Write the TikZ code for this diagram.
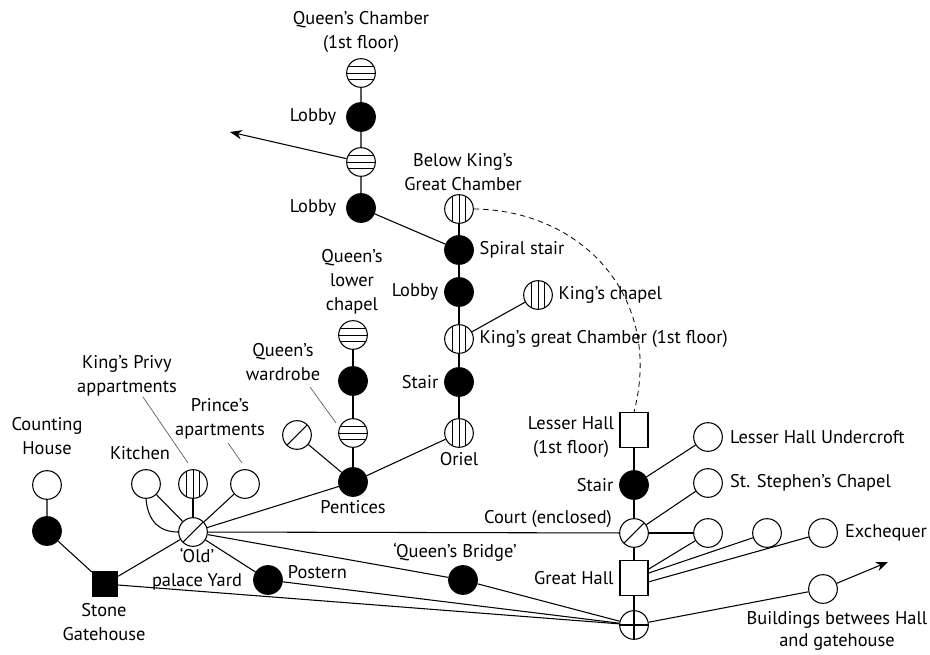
\documentclass[tikz,border=0pt]{standalone}
\usepackage{fontspec}
\setmainfont{PT Sans}
\usetikzlibrary{arrows.meta, calc, positioning}

\tikzset{
	room/.style={circle, draw, fill=white, minimum size=21.5pt, inner sep=0pt},
	pass/.style={room, fill=black},
	hatchH/.style={room, path picture={
		\foreach \d in {-5,0,5}
			\draw[line width=.5pt] ([yshift=\d pt]path picture bounding box.west) -- ([yshift=\d pt]path picture bounding box.east);}},
	hatchV/.style={room, path picture={
		\foreach \d in {-5,0,5}
			\draw[line width=.5pt] ([xshift=\d pt]path picture bounding box.north) -- ([xshift=\d pt]path picture bounding box.south);}},
	slash/.style={room, path picture={
		\draw (path picture bounding box.south west) -- (path picture bounding box.north east);}},
	cross/.style={room, path picture={
		\draw (path picture bounding box.north) -- (path picture bounding box.south);
		\draw (path picture bounding box.west) -- (path picture bounding box.east);}},
	hall/.style={rectangle, draw, fill=white, minimum width=21pt, minimum height=26pt, inner sep=0pt},
	gate/.style={rectangle, fill=black, minimum size=19pt, inner sep=0pt},
	tag/.style={inner sep=1pt, align=center, font=\fontsize{13.8}{18}\selectfont},
	leader/.style={draw=black!70, line width=.45pt},
}

\begin{document}
\begin{tikzpicture}[x=.75pt, y=-.75pt, line width=.8pt]
	\useasboundingbox (0,0) rectangle (930,655);

	% queen's side, top chain
	\node[hatchH] (qchamber) at (361,73) {};
	\node[pass] (lobbyA) at (361,117) {};
	\node[hatchH] (qhall) at (361,162) {};
	\node[pass] (lobbyB) at (361,208) {};
	\coordinate (westout) at (230,132);

	% king's side
	\node[hatchV] (belowkgc) at (459,209) {};
	\node[pass] (spiral) at (459,250) {};
	\node[pass] (lobbyC) at (459,292) {};
	\node[hatchV] (kgc) at (459,339) {};
	\node[hatchV] (kchapel) at (538,295) {};
	\node[pass] (kstair) at (459,382) {};
	\node[hatchV] (oriel) at (459,433) {};

	% queen's lower chapel down to the pentices
	\node[hatchH] (qlchapel) at (353,335) {};
	\node[pass] (qpass) at (353,381) {};
	\node[hatchH] (qwardrobe) at (353,433) {};
	\node[pass] (pentices) at (353,482) {};
	\node[slash] (pslash) at (297,435) {};

	% old palace yard
	\node[slash] (opy) at (193,532) {};
	\node[room] (kitchen) at (146,484) {};
	\node[hatchV] (kprivy) at (193,484) {};
	\node[room] (prince) at (245,484) {};
	\node[room] (counting) at (47,485) {};
	\node[pass] (cpass) at (47,531) {};
	\node[gate] (gatehouse) at (105,584) {};
	\node[pass] (postern) at (268,580) {};
	\node[pass] (qbridge) at (463,580) {};

	% hall range
	\node[hall] (lesser) at (634,430) {};
	\node[pass] (hstair) at (634,485) {};
	\node[slash] (court) at (634,533) {};
	\node[hall] (ghall) at (634,578) {};
	\node[cross] (xyard) at (634,625) {};
	\node[room] (undercroft) at (708,437) {};
	\node[room] (stephen) at (708,483) {};
	\node[room] (outA) at (708,533) {};
	\node[room] (outB) at (767,533) {};
	\node[room] (exchequer) at (823,533) {};
	\node[room] (between) at (823,589) {};
	\coordinate (eastout) at (888,562);

	% links
	\draw (qchamber) -- (lobbyA) -- (qhall) -- (lobbyB) -- (spiral);
	\draw[-{Stealth[length=9pt, width=7pt]}] (qhall) -- (westout);
	\draw (belowkgc) -- (spiral) -- (lobbyC) -- (kgc) -- (kstair) -- (oriel);
	\draw (kgc) -- (kchapel);
	\draw (qlchapel) -- (qpass) -- (qwardrobe) -- (pentices);
	\draw (pslash) -- (pentices) -- (oriel);
	\draw (opy) -- (pentices);
	\draw (opy) -- (kitchen);
	\draw (kitchen.south) .. controls (148,522) and (160,532) .. (opy.west);
	\draw (opy) -- (kprivy);
	\draw (opy) -- (prince);
	\draw (counting) -- (cpass) -- (gatehouse) -- (opy);
	\draw (opy) -- (postern);
	\draw (opy) -- (qbridge) -- (xyard);
	\draw (opy) -- (court);
	\draw (postern) -- (xyard);
	\draw (gatehouse) -- (xyard);
	\draw (lesser) -- (hstair) -- (court) -- (ghall) -- (xyard);
	\draw (hstair) -- (undercroft);
	\draw (court) -- (stephen);
	\draw (court) -- (outA);
	\draw (ghall) -- (outA);
	\draw (ghall) -- (outB);
	\draw (ghall.-15) -- (exchequer);
	\draw (xyard) -- (between);
	\draw[-{Stealth[length=9pt, width=7pt]}] (between) -- (eastout);
	\draw[dash pattern=on 4pt off 3pt, line width=.6pt] (belowkgc.east) .. controls (580,210) and (664,295) .. (lesser.north);

	% leaders
	\coordinate (ldPrivyA) at (143,397);
	\coordinate (ldPrivyB) at (188,463);
	\coordinate (ldPrinceA) at (228,443);
	\coordinate (ldPrinceB) at (242,463);
	\coordinate (ldWardA) at (310,387);
	\coordinate (ldWardB) at (336,423);
	\draw[leader] (ldPrivyA) -- (ldPrivyB);
	\draw[leader] (ldPrinceA) -- (ldPrinceB);
	\draw[leader] (ldWardA) -- (ldWardB);

	% labels
	\node[tag, above=3pt of qchamber] (tQchamber) {Queen's Chamber\\(1st floor)};
	\node[tag, left=6pt of lobbyA] (tLobbyA) {Lobby};
	\node[tag, left=6pt of lobbyB] (tLobbyB) {Lobby};
	\node[tag] (tBelow) at (463,172) {Below King's\\Great Chamber};
	\node[tag, right=3pt of spiral] (tSpiral) {Spiral stair};
	\node[tag, left=3pt of lobbyC] (tLobbyC) {Lobby};
	\node[tag, right=3pt of kchapel] (tKchapel) {King's chapel};
	\node[tag, right=3pt of kgc] (tKgc) {King's great Chamber (1st floor)};
	\node[tag, left=3pt of kstair] (tKstair) {Stair};
	\node[tag, below=2pt of oriel] (tOriel) {Oriel};
	\node[tag] (tQlchapel) at (352,282) {Queen's\\lower\\chapel};
	\node[tag] (tQwardrobe) at (283,362) {Queen's\\wardrobe};
	\node[tag, below=1pt of pentices] (tPentices) {Pentices};
	\node[tag] (tKitchen) at (140,453) {Kitchen};
	\node[tag] (tPrivy) at (127,376) {King's Privy\\appartments};
	\node[tag] (tPrince) at (220,419) {Prince's\\apartments};
	\node[tag] (tCounting) at (47,436) {Counting\\House};
	\node[tag] (tGate) at (104,622) {Stone\\Gatehouse};
	\node[tag] (tOpy) at (197,569) {`Old'\\palace Yard};
	\node[tag, anchor=west] (tPostern) at (286,572) {Postern};
	\node[tag] (tQbridge) at (455,552) {`Queen's Bridge'};
	\node[tag] (tCourt) at (548,519) {Court (enclosed)};
	\node[tag] (tLesser) at (571,437) {Lesser Hall\\(1st floor)};
	\node[tag, left=3pt of hstair] (tHstair) {Stair};
	\node[tag, left=3pt of ghall] (tGhall) {Great Hall};
	\node[tag, right=4pt of undercroft] (tUndercroft) {Lesser Hall Undercroft};
	\node[tag, right=4pt of stephen] (tStephen) {St. Stephen's Chapel};
	\node[tag, right=4pt of exchequer] (tExchequer) {Exchequer};
	\node[tag, font=\fontsize{13.8}{16.5}\selectfont] (tBetween) at (837,631) {Buildings betwees Hall\\and gatehouse};

\end{tikzpicture}
\end{document}
